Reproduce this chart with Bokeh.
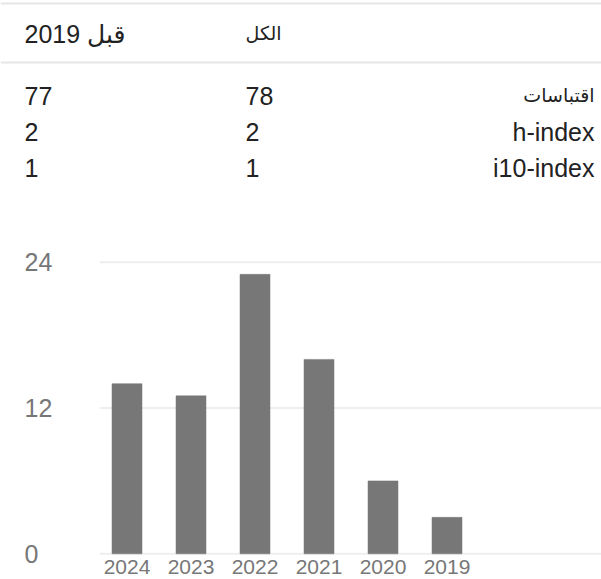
from bokeh.plotting import figure
from bokeh.models import Range1d
from bokeh.layouts import column
from bokeh.embed import file_html
from bokeh.resources import INLINE
from bokeh.core.properties import value

# ---- data ----
row_labels = ["اقتباسات", "h-index", "i10-index"]
all_values = [78, 2, 1]
since_values = [77, 2, 1]
col_headers = ["الكل", "قبل 2019"]
years = [2024, 2023, 2022, 2021, 2020, 2019]
citations = [14, 13, 23, 16, 6, 3]
y_ticks = [0, 12, 24]

FONT = value("Liberation Sans, Arial, DejaVu Sans")
W = 601
TH = 200
CH = 379
DARK = "#222222"
GRAY = "#777777"

# ---- table ----
t = figure(width=W, height=TH, x_range=Range1d(0, W), y_range=Range1d(TH, 0),
           output_backend="svg", toolbar_location=None,
           x_axis_location=None, y_axis_location=None,
           min_border=0, outline_line_color=None)
t.xgrid.visible = False
t.ygrid.visible = False

line_y = [3, 62]
t.segment(x0=[0, 0], x1=[W, W], y0=line_y, y1=line_y, line_color="#e6e6e6", line_width=2)

col_all_x, col_since_x = 245, 24
label_right = 594
header_y = 33
row_y0, row_dy = 95, 36
ry = [row_y0 + i * row_dy for i in range(len(row_labels))]

common = dict(text_font=FONT, text_color=DARK, text_baseline="middle")
t.text(x=[col_all_x], y=[header_y], text=[col_headers[0]], text_font_size="19px", text_align="left", **common)
t.text(x=[col_since_x], y=[header_y], text=[col_headers[1]], text_font_size="25px", text_align="left", **common)
t.text(x=[label_right], y=[ry[0]], text=[row_labels[0]], text_font_size="19px", text_align="right", **common)
t.text(x=[label_right] * 2, y=ry[1:], text=row_labels[1:], text_font_size="25px", text_align="right", **common)
t.text(x=[col_all_x] * len(all_values), y=ry, text=[str(v) for v in all_values],
       text_font_size="25px", text_align="left", **common)
t.text(x=[col_since_x] * len(since_values), y=ry, text=[str(v) for v in since_values],
       text_font_size="25px", text_align="left", **common)

# ---- chart ----
PX_PER_YEAR = 64
first_bar_px = 126.5
grid_left_px = 99.3
label_left_px = 24
x_start = years[0] + first_bar_px / PX_PER_YEAR
x_end = x_start - W / PX_PER_YEAR
grid_x0 = x_start - grid_left_px / PX_PER_YEAR
label_x = x_start - label_left_px / PX_PER_YEAR

PX_PER_UNIT = 12.15
zero_px = 553.3 - TH          # position of the 0 line inside the chart figure
y_lo = -(CH - zero_px) / PX_PER_UNIT
y_hi = zero_px / PX_PER_UNIT

c = figure(width=W, height=CH, x_range=Range1d(x_start, x_end), y_range=Range1d(y_lo, y_hi),
           output_backend="svg", toolbar_location=None,
           x_axis_location=None, y_axis_location=None,
           min_border=0, outline_line_color=None)
c.xgrid.visible = False
c.ygrid.visible = False

c.segment(x0=[grid_x0] * len(y_ticks), x1=[x_end] * len(y_ticks), y0=y_ticks, y1=y_ticks,
          line_color="#eeeeee", line_width=2)
c.vbar(x=years, top=citations, width=30 / PX_PER_YEAR, bottom=0,
       fill_color=GRAY, line_color=GRAY, line_width=0.5)
c.text(x=[label_x] * len(y_ticks), y=y_ticks, text=[str(v) for v in y_ticks], text_font=FONT,
       text_font_size="25px", text_color=GRAY, text_align="left", text_baseline="middle")
c.text(x=years, y=[0] * len(years), text=[str(y) for y in years], text_font=FONT,
       text_font_size="21px", text_color=GRAY, text_align="center", text_baseline="middle",
       y_offset=13)

layout = column(t, c, spacing=0)
open("out.html", "w").write(file_html(layout, INLINE))
